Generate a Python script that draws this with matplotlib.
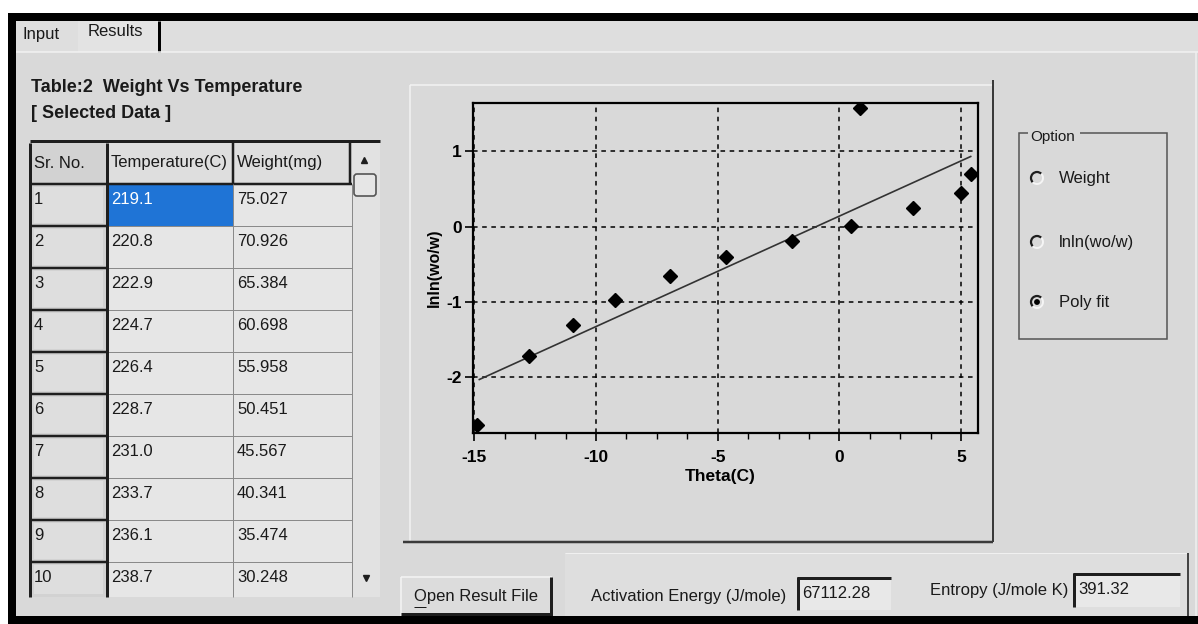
import matplotlib
matplotlib.use('Agg')
import matplotlib.pyplot as plt
from matplotlib.patches import Rectangle, Arc, Circle, FancyBboxPatch
from matplotlib.ticker import MultipleLocator

plt.rcParams['font.family'] = ['Liberation Sans', 'DejaVu Sans']
plt.rcParams['axes.unicode_minus'] = False

# table "Weight Vs Temperature" (selected data)
table_headers = ['Sr. No.', 'Temperature(C)', 'Weight(mg)']
sr_no = ['1', '2', '3', '4', '5', '6', '7', '8', '9', '10']
temperature = ['219.1', '220.8', '222.9', '224.7', '226.4', '228.7', '231.0', '233.7', '236.1', '238.7']
weight = ['75.027', '70.926', '65.384', '60.698', '55.958', '50.451', '45.567', '40.341', '35.474', '30.248']

# plot: lnln(wo/w) against theta, with the poly fit
theta = [-14.89, -12.76, -10.95, -9.21, -6.97, -4.67, -1.96, 0.46, 0.85, 3.03, 5.02, 5.41]
lnln = [-2.64, -1.72, -1.31, -0.97, -0.66, -0.41, -0.19, 0.01, 1.57, 0.24, 0.45, 0.70]
fit_theta = [-14.8, 5.4]
fit_lnln = [-2.03, 0.93]
x_ticks = [-15, -10, -5, 0, 5]
y_ticks = [-2, -1, 0, 1]

options = ['Weight', 'lnln(wo/w)', 'Poly fit']
selected_option = 2
activation_energy = '67112.28'
entropy = '391.32'

W, H = 1198, 624
BG = '#d9d9d9'
CELL = '#e6e6e6'
DARK = '#1e1e1e'
TXT = '#1a1a1a'

fig = plt.figure(figsize=(W / 100, H / 100), dpi=100)
fig.patch.set_facecolor('white')
ui = fig.add_axes([0, 0, 1, 1])
ui.set_xlim(0, W)
ui.set_ylim(H, 0)
ui.axis('off')


def box(x0, y0, x1, y1, fc, ec='none', lw=0, z=1):
    ui.add_patch(Rectangle((x0, y0), x1 - x0, y1 - y0, facecolor=fc,
                           edgecolor=ec, linewidth=lw, zorder=z))


def seg(x0, y0, x1, y1, c=DARK, px=1.0, z=3):
    ui.plot([x0, x1], [y0, y1], color=c, linewidth=px * 0.72,
            solid_capstyle='butt', zorder=z)


def label(x, y, s, size=12, weight='normal', color=TXT, ha='left', z=5):
    ui.text(x, y, s, fontsize=size, fontweight=weight, color=color,
            ha=ha, va='center', zorder=z)


# window frame
box(16, 21, W, 616, BG)
box(8, 13, W, 21, 'black', z=6)
box(8, 13, 16, H, 'black', z=6)
box(8, 616, W, H, 'black', z=6)

# tab strip
box(16, 21, W, 52, '#dedede')
box(78, 21, 159, 52, '#e3e3e3')
seg(159, 21, 159, 52, 'black', 3)
seg(16, 52, W, 52, '#f2f2f2', 1.5)
seg(1196, 52, 1196, 616, '#f0f0f0', 1.5)
label(23, 34, 'Input')
label(88, 31, 'Results')

# title
label(31, 88, 'Table:2  Weight Vs Temperature', 13, 'bold')
label(31, 113, '[ Selected Data ]', 13, 'bold')

# table
cols = [30, 107, 233, 352]
head_top, head_bot, row_h, tab_bot = 143, 184, 42, 597
box(30, head_top, 352, tab_bot, CELL)
box(30, head_top, 107, tab_bot, '#d2d2d2')
box(107, head_top, 352, head_bot, '#dedede')
box(352, head_top, 380, tab_bot, '#e2e2e2')
for j, h in enumerate(table_headers):
    label(cols[j] + 4, 163, h)
for i in range(len(sr_no)):
    top = head_bot + row_h * i
    bot = min(top + row_h, tab_bot)
    box(34, top + 3, 103, bot - 3, '#dedede', z=2)
    if i == 0:
        box(108, top + 1, 233, bot, '#1f74d6', z=2)
    ty = top + 16
    label(34, ty, sr_no[i])
    label(111, ty, temperature[i], color='white' if i == 0 else TXT)
    label(237, ty, weight[i])
    if bot < tab_bot:
        seg(30, bot, 107, bot, DARK, 2.5)
        seg(107, bot, 352, bot, '#8a8a8a', 1)
seg(30, 141, 380, 141, DARK, 3)
seg(30, head_top, 30, tab_bot, DARK, 3)
seg(107, head_top, 107, tab_bot, DARK, 3)
seg(30, head_bot, 352, head_bot, DARK, 2.5)
seg(233, head_top, 233, head_bot, DARK, 2.5)
seg(350, head_top, 350, head_bot, DARK, 2.5)
seg(233, head_bot, 233, tab_bot, '#8a8a8a', 1)
seg(352, head_bot, 352, tab_bot, '#8a8a8a', 1)
ui.plot([364], [160], marker='^', color=DARK, ms=4, zorder=5)
ui.plot([366], [578], marker='v', color=DARK, ms=4, zorder=5)
ui.add_patch(FancyBboxPatch((354, 174), 22, 22, boxstyle='round,pad=0,rounding_size=3',
                            facecolor='#e6e6e6', edgecolor='#555555', linewidth=1.2, zorder=4))

# plot panel frame
seg(410, 85, 993, 85, '#f3f3f3', 1.5)
seg(410, 85, 410, 542, '#f3f3f3', 1.5)
seg(993, 80, 993, 542, '#3a3a3a', 2)
seg(403, 542, 993, 542, '#3a3a3a', 2.5)

# option group
box(1019, 133, 1167, 339, 'none', ec='#555555', lw=1.1, z=3)
box(1028, 128, 1080, 146, BG, z=4)
label(1030, 137, 'Option', 11)
for i, opt in enumerate(options):
    y = [178, 242, 302][i]
    ui.add_patch(Arc((1037, y), 12, 12, theta1=135, theta2=315, color=DARK, lw=1.6, zorder=4))
    ui.add_patch(Arc((1037, y), 12, 12, theta1=315, theta2=135, color='#f5f5f5', lw=1.4, zorder=4))
    if i == selected_option:
        ui.add_patch(Circle((1037, y), 2.2, color='black', zorder=5))
    label(1059, y, opt)

# bottom bar
box(565, 553, 1188, 616, '#dedede')
seg(565, 553, 1188, 553, '#f0f0f0', 1)
seg(1188, 553, 1188, 616, '#444444', 2)
box(401, 577, 552, 617, '#dcdcdc', z=2)
seg(401, 577, 552, 577, '#f5f5f5', 1.5)
seg(401, 577, 401, 617, '#f5f5f5', 1.5)
seg(401, 614, 552, 614, DARK, 3)
seg(551, 577, 551, 616, DARK, 3)
label(476, 597, 'Open Result File', ha='center')
seg(414, 607, 426, 607, TXT, 1)
label(591, 597, 'Activation Energy (J/mole)')
box(797, 577, 891, 610, '#e8e8e8', z=2)
seg(797, 578, 891, 578, DARK, 3)
seg(798, 577, 798, 610, DARK, 3)
label(802, 594, activation_energy)
label(930, 590, 'Entropy (J/mole K)')
box(1073, 573, 1180, 607, '#e8e8e8', z=2)
seg(1073, 574, 1180, 574, DARK, 3)
seg(1074, 573, 1074, 607, DARK, 3)
label(1078, 590, entropy)

# chart
ax = fig.add_axes([473 / W, 1 - 433 / H, 505 / W, 330 / H])
ax.set_facecolor(BG)
ax.plot(fit_theta, fit_lnln, color='#333333', linewidth=1.2, zorder=3)
ax.plot(theta, lnln, 'D', color='black', markersize=7, zorder=4)
ax.set_xlim(-15.06, 5.7)
ax.set_ylim(-2.74, 1.64)
ax.set_xticks(x_ticks)
ax.set_yticks(y_ticks)
ax.xaxis.set_minor_locator(MultipleLocator(1.25))
ax.grid(True, which='major', color='black', linestyle=(0, (3, 3)), linewidth=1.1)
ax.tick_params(axis='x', which='major', direction='out', length=6, width=1.2, pad=6, labelsize=12.5)
ax.tick_params(axis='x', which='minor', direction='out', length=4, width=1.0)
ax.tick_params(axis='y', which='major', direction='out', length=6, width=1.2, pad=2, labelsize=12.5)
for t in ax.get_xticklabels() + ax.get_yticklabels():
    t.set_fontweight('bold')
for s in ax.spines.values():
    s.set_color('black')
    s.set_linewidth(1.6)
ax.set_xlabel('Theta(C)', fontsize=12.5, fontweight='bold')
ax.xaxis.set_label_coords(0.49, -0.11)
ax.set_ylabel('lnln(wo/w)', fontsize=11.5, fontweight='bold')
ax.yaxis.set_label_coords(-0.062, 0.5)

fig.savefig('out.png', dpi=100, facecolor=fig.get_facecolor())
